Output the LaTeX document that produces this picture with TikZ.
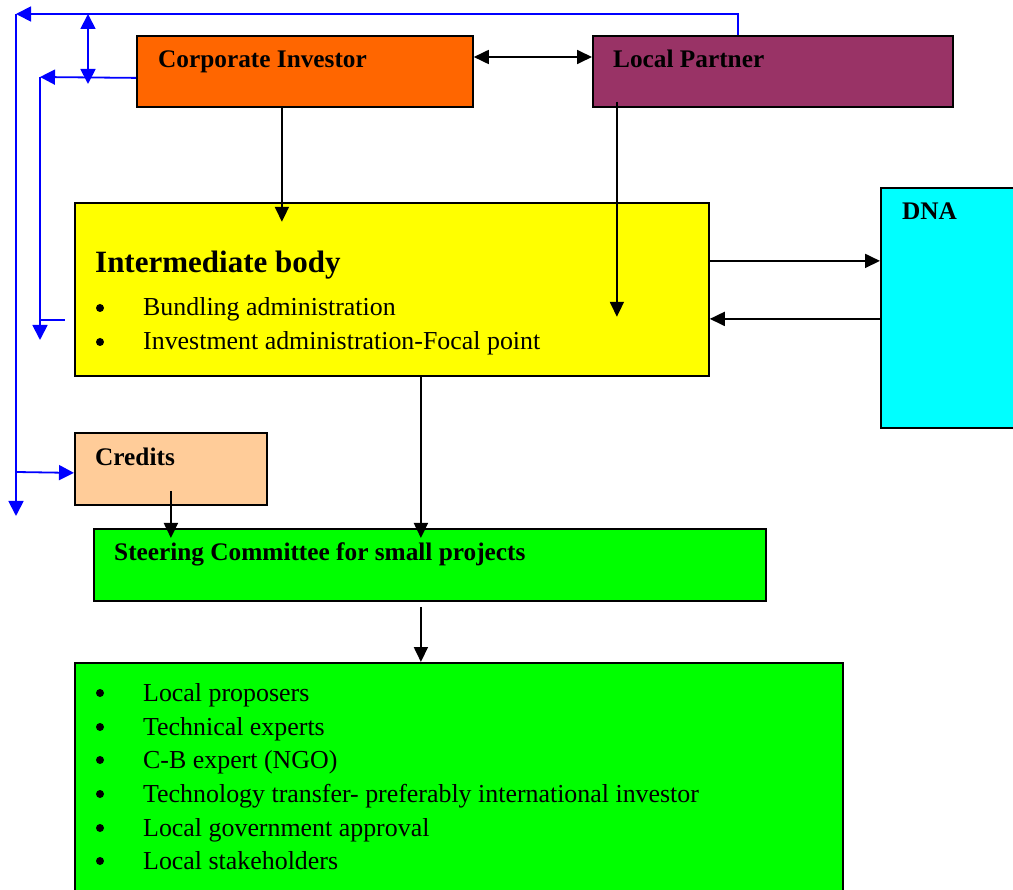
\documentclass[tikz,border=0pt]{standalone}
\usepackage{fontspec}
\setmainfont{Liberation Serif}
\usetikzlibrary{arrows.meta}
\definecolor{ciorange}{HTML}{FF6600}
\definecolor{lppurple}{HTML}{993366}
\definecolor{ibyellow}{HTML}{FFFF00}
\definecolor{dnacyan}{HTML}{00FFFF}
\definecolor{crpeach}{HTML}{FFCC99}
\definecolor{scgreen}{HTML}{00FF00}
\begin{document}
\begin{tikzpicture}[x=1pt,y=-1pt,
  box/.style={draw=black, line width=1.8pt, anchor=north west, inner sep=0pt},
  lbl/.style={anchor=base west, inner sep=0pt, font=\fontsize{25.3}{30}\selectfont\bfseries},
  item/.style={anchor=base west, inner sep=0pt, font=\fontsize{25.9}{30}\selectfont},
  dot/.style={circle, fill=black, inner sep=0pt, minimum size=8pt},
  blk/.style={line width=1.8pt, -{Triangle[length=15pt,width=14pt]}},
  blkboth/.style={line width=1.8pt, {Triangle[length=15pt,width=14pt]}-{Triangle[length=15pt,width=14pt]}},
  blu/.style={draw=blue, line width=1.8pt},
  bluarr/.style={blu, -{Triangle[length=15pt,width=15pt]}},
  bluboth/.style={blu, {Triangle[length=15pt,width=15pt]}-{Triangle[length=15pt,width=15pt]}},
]
\useasboundingbox (0,0) rectangle (1013,890);

% boxes
\node[box, fill=ciorange, minimum width=336pt, minimum height=71pt] (ci) at (136,35) {};
\node[box, fill=lppurple, minimum width=360pt, minimum height=71pt] (lp) at (592,35) {};
\node[box, fill=ibyellow, minimum width=634pt, minimum height=173pt] (ib) at (74,202) {};
\node[box, fill=dnacyan, minimum width=140pt, minimum height=240pt] (dna) at (880,187) {};
\node[box, fill=crpeach, minimum width=192pt, minimum height=72pt] (cr) at (74,432) {};
\node[box, fill=scgreen, minimum width=672pt, minimum height=72pt] (sc) at (93,528) {};
\node[box, fill=scgreen, minimum width=768pt, minimum height=240pt] (pl) at (74,662) {};

% labels
\node[lbl] (tci) at (158,68) {Corporate Investor};
\node[lbl] (tlp) at (613,68) {Local Partner};
\node[lbl] (tdna) at (902,220) {DNA};
\node[lbl, font=\fontsize{31}{36}\selectfont\bfseries] (tib) at (95,273) {Intermediate body};
\node[lbl] (tcr) at (95,466) {Credits};
\node[lbl] (tsc) at (114,561) {Steering Committee for small projects};

% intermediate body items
\node[dot] (b1) at (100,308) {};
\node[item] (i1) at (143,316) {Bundling administration};
\node[dot] (b2) at (100,342) {};
\node[item] (i2) at (143,350) {Investment administration-Focal point};

% participant items
\node[dot] (p1) at (100,693) {};
\node[item] (q1) at (143,701) {Local proposers};
\node[dot] (p2) at (100,727) {};
\node[item] (q2) at (143,735) {Technical experts};
\node[dot] (p3) at (100,760) {};
\node[item] (q3) at (143,768) {C-B expert (NGO)};
\node[dot] (p4) at (100,794) {};
\node[item] (q4) at (143,802) {Technology transfer- preferably international investor};
\node[dot] (p5) at (100,828) {};
\node[item] (q5) at (143,836) {Local government approval};
\node[dot] (p6) at (100,861) {};
\node[item] (q6) at (143,869) {Local stakeholders};

% black connectors
\draw[blkboth] ([yshift=-22pt]ci.north east) -- ([yshift=-22pt]lp.north west);
\draw[blk] ([xshift=-23pt]ci.south) -- ++(0,114);
\draw[blk] ([xshift=-156pt,yshift=6pt]lp.south) -- ++(0,215);
\draw[blk] ([yshift=28.5pt]ib.east) -- ([yshift=28.5pt]ib.east -| dna.west);
\draw[blk] ([yshift=-29.5pt]ib.east -| dna.west) -- ([yshift=-29.5pt]ib.east);
\draw[blk] ([xshift=29pt]ib.south) -- ([xshift=29pt,yshift=-10pt]ib.south |- sc.north);
\draw[blk] ([yshift=15pt]cr.south) -- ([yshift=-10pt]cr.south |- sc.north);
\draw[blk] ([xshift=-9pt,yshift=-5pt]sc.south) -- ([xshift=-9pt]sc.south |- pl.north);

% blue connectors
\coordinate (tl) at (16,14);
\draw[bluarr] ([xshift=-35pt]lp.north) -- ++(0,-21) -- (tl);
\draw[bluarr] (tl) -- (16,516);
\draw[bluarr] (16,472) -- ([yshift=-4pt]cr.west);
\draw[bluboth] (88,14) -- (88,84);
\coordinate (ml) at (40,77);
\draw[bluarr] ([yshift=-6.5pt]ci.west) -- (ml);
\draw[bluarr] (ml) -- (40,340);
\draw[blu] (40,320) -- (65,320);
\end{tikzpicture}
\end{document}
